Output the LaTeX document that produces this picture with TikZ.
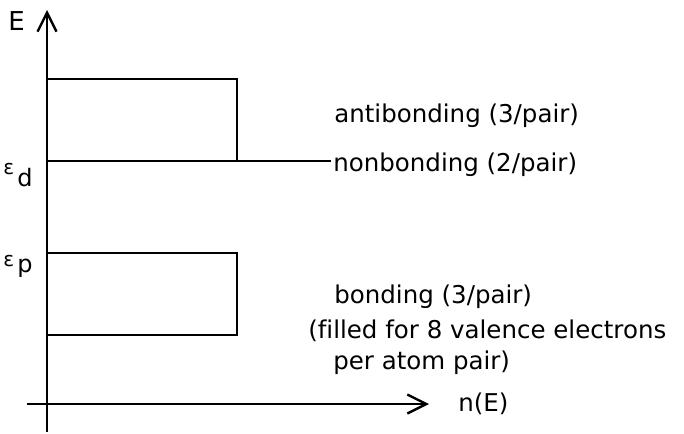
\documentclass[tikz,border=0pt]{standalone}
\usepackage{fontspec}
\setmainfont{DejaVu Sans}[Ligatures=NoCommon]
\usetikzlibrary{arrows.meta}
\begin{document}
\begin{tikzpicture}[x=1pt,y=-1pt,line width=2.6pt,
  axis/.style={-{Straight Barb[length=19pt,width=19pt,line width=2.4pt]}},
  lbl/.style={anchor=base west,inner sep=0pt,font=\fontsize{24.5}{28}\selectfont},
  sym/.style={anchor=base west,inner sep=0pt,font=\fontsize{24}{26}\selectfont},
  eps/.style={anchor=base west,inner sep=0pt,font=\fontsize{20}{22}\selectfont}]
\useasboundingbox (0,0) rectangle (684,433);

% axes
\coordinate (ybot) at (47,432);
\coordinate (ytop) at (47,10);
\coordinate (xleft) at (27,404);
\coordinate (xright) at (429,404);
\draw[axis] (ybot) -- (ytop);
\draw[axis] (xleft) -- (xright);

% antibonding band and nonbonding level
\coordinate (abtop) at (47,79);
\coordinate (abright) at (237,161);
\coordinate (nbleft) at (47,161);
\coordinate (nbend) at (331,161);
\draw (abtop) -| (abright);
\draw (nbleft) -- (nbend);

% bonding band
\coordinate (btop) at (47,253);
\coordinate (bcorner) at (237,335);
\coordinate (bbot) at (47,335);
\draw (btop) -| (bcorner) -- (bbot);

% axis labels
\node[lbl,font=\fontsize{26}{28}\selectfont] (E) at (7,31) {E};
\node[lbl] (nE) at (457,411) {n(E)};
\node[eps] (epsd) at (2,174) {ε};
\node[sym] (d) at (16,186) {d};
\node[eps] (epsp) at (2,266) {ε};
\node[sym] (p) at (16,272) {p};

% band labels
\node[lbl] (ab) at (333,122) {antibonding (3/pair)};
\node[lbl] (nb) at (332,171) {nonbonding (2/pair)};
\node[lbl] (bd) at (333,303) {bonding (3/pair)};
\node[lbl] (fill) at (307,338) {(filled for 8 valence electrons};
\node[lbl] (pair) at (332,369) {per atom pair)};
\end{tikzpicture}
\end{document}
